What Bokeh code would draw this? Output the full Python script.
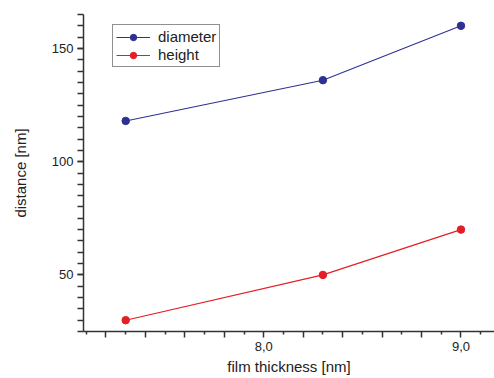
from bokeh.plotting import figure
from bokeh.models import FixedTicker, Range1d, Legend, LegendItem
from bokeh.embed import file_html
from bokeh.resources import INLINE

# data
thickness = [7.3, 8.3, 9.0]
diameter = [118, 136, 160]
height = [30, 50, 70]

x_major = [round(7.2 + 0.2 * i, 1) for i in range(10)]
x_minor = [round(7.1 + 0.2 * i, 1) for i in range(11)]
x_tick_labels = {8.0: "8,0", 9.0: "9,0"}
y_major = [50, 100, 150]
y_minor = list(range(25, 170, 5))

BLUE = "#2e3192"
RED = "#e31e24"
TXT = "#222222"
FONT = "Liberation Sans"

p = figure(width=494, height=378, output_backend="svg", toolbar_location=None,
           x_range=Range1d(7.086, 9.17), y_range=Range1d(25, 165),
           min_border_left=83, min_border_top=14, min_border_right=0, min_border_bottom=47)
p.outline_line_color = None
p.xgrid.visible = False
p.ygrid.visible = False
p.background_fill_color = "white"
p.border_fill_color = "white"

r1 = p.line(thickness, diameter, line_color=BLUE, line_width=1.1)
c1 = p.scatter(thickness, diameter, size=7.5, fill_color=BLUE, line_color=BLUE)
r2 = p.line(thickness, height, line_color=RED, line_width=1.1)
c2 = p.scatter(thickness, height, size=7.5, fill_color=RED, line_color=RED)

xa = p.xaxis[0]
xa.ticker = FixedTicker(ticks=x_major, minor_ticks=x_minor)
overrides = {v: "" for v in x_major}
overrides.update(x_tick_labels)
xa.major_label_overrides = overrides
xa.axis_label = "film thickness [nm]"
xa.major_tick_out = 6
xa.major_tick_in = 0
xa.minor_tick_out = 3
xa.minor_tick_in = 0
xa.major_label_standoff = 4
xa.axis_label_standoff = 4

ya = p.yaxis[0]
ya.ticker = FixedTicker(ticks=y_major, minor_ticks=y_minor)
ya.axis_label = "distance [nm]"
ya.major_tick_out = 6
ya.major_tick_in = 0
ya.minor_tick_out = 6
ya.minor_tick_in = 0
ya.major_label_standoff = 4
ya.axis_label_standoff = 20

for ax in (xa, ya):
    ax.axis_line_color = "#333333"
    ax.axis_line_width = 1.5
    ax.major_tick_line_color = "#333333"
    ax.major_tick_line_width = 1.5
    ax.minor_tick_line_color = "#333333"
    ax.minor_tick_line_width = 1.5
    ax.major_label_text_font = FONT
    ax.major_label_text_font_size = "13px"
    ax.major_label_text_color = TXT
    ax.axis_label_text_font = FONT
    ax.axis_label_text_font_size = "15px"
    ax.axis_label_text_font_style = "normal"
    ax.axis_label_text_color = TXT

legend = Legend(items=[LegendItem(label="diameter", renderers=[r1, c1]),
                       LegendItem(label="height", renderers=[r2, c2])],
                location=(29, 264))
legend.border_line_color = "#222222"
legend.border_line_width = 1.5
legend.background_fill_color = "white"
legend.background_fill_alpha = 1
legend.label_text_font = FONT
legend.label_text_font_size = "15px"
legend.label_text_color = TXT
legend.glyph_width = 34
legend.glyph_height = 16
legend.label_height = 16
legend.label_standoff = 8
legend.spacing = 1
legend.padding = 3
legend.margin = 0
p.add_layout(legend)

open("out.html", "w").write(file_html(p, INLINE))
